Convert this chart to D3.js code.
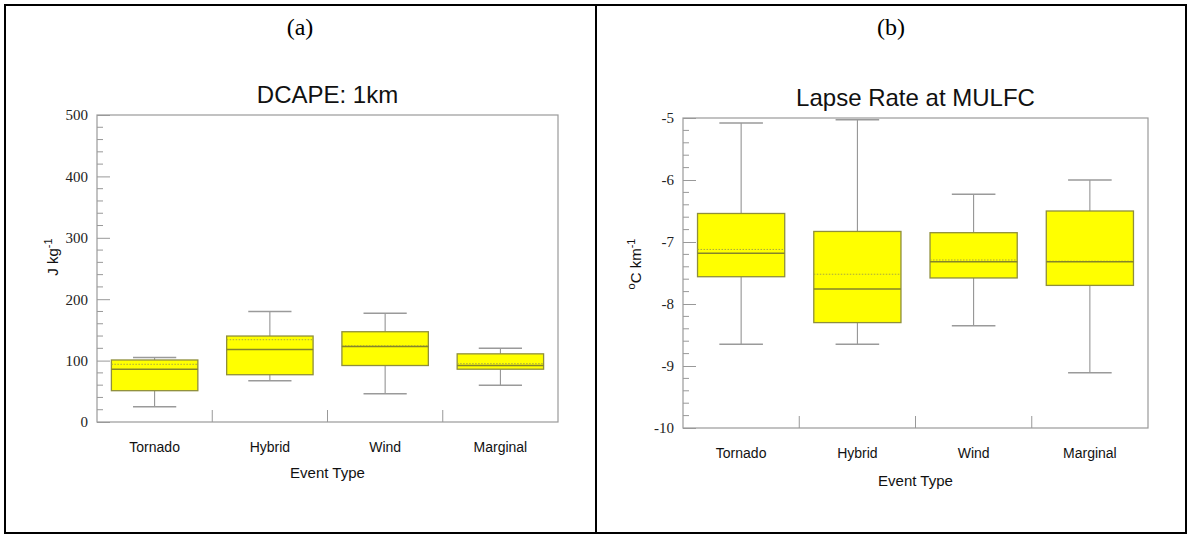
<!DOCTYPE html>
<html>
<head>
<meta charset="utf-8">
<script src="https://cdn.jsdelivr.net/npm/d3@7"></script>
<style>
  body { margin: 0; background: #fff; }
  svg { display: block; }
</style>
</head>
<body>
<div id="chart"></div>
<script>
// event types shared by both panels
const categories = ['Tornado', 'Hybrid', 'Wind', 'Marginal']

// (a) DCAPE: 1km, J kg-1
const dcapeWhiskerLow = [25, 67, 46, 60]
const dcapeQ1 = [51, 77, 92, 86]
const dcapeMedian = [86, 118, 123, 92]
const dcapeMean = [94, 134, 124, 95]
const dcapeQ3 = [101, 140, 147, 111]
const dcapeWhiskerHigh = [105, 180, 177, 120]
const dcapeTicks = [0, 100, 200, 300, 400, 500]

// (b) Lapse rate at MULFC, C km-1
const lapseWhiskerLow = [-8.65, -8.65, -8.35, -9.11]
const lapseQ1 = [-7.56, -8.30, -7.58, -7.70]
const lapseMedian = [-7.18, -7.76, -7.32, -7.32]
const lapseMean = [-7.12, -7.52, -7.29, -7.31]
const lapseQ3 = [-6.54, -6.83, -6.85, -6.50]
const lapseWhiskerHigh = [-5.08, -5.03, -6.23, -6.00]
const lapseTicks = [-10, -9, -8, -7, -6, -5]

const W = 1188
const H = 534

const svg = d3
  .select('#chart')
  .append('svg')
  .attr('width', W)
  .attr('height', H)

//outer frame + divider
svg
  .append('rect')
  .attr('x', 5)
  .attr('y', 5)
  .attr('width', 1181)
  .attr('height', 528)
  .attr('fill', 'none')
  .attr('stroke', '#000')
  .attr('stroke-width', 2)
svg
  .append('line')
  .attr('x1', 596)
  .attr('x2', 596)
  .attr('y1', 5)
  .attr('y2', 533)
  .attr('stroke', '#000')
  .attr('stroke-width', 2)

function drawPanel(p) {
  const g = svg.append('g')

  const x = d3
    .scaleBand()
    .domain(categories)
    .range([p.left, p.right])
  const y = d3
    .scaleLinear()
    .domain(p.domain)
    .range([p.bottom, p.top])

  //panel letter
  svg
    .append('text')
    .attr('x', p.letterX)
    .attr('y', 35)
    .attr('text-anchor', 'middle')
    .style('font-family', '"Liberation Serif", "Times New Roman", serif')
    .style('font-size', '24px')
    .text(p.letter)

  //title
  g.append('text')
    .attr('x', (p.left + p.right) / 2)
    .attr('y', p.titleY)
    .attr('text-anchor', 'middle')
    .style('font-family', '"Liberation Sans", Arial, sans-serif')
    .style('font-size', '24px')
    .attr('fill', '#111')
    .text(p.title)

  //minor ticks
  g.append('g')
    .selectAll('line')
    .data(y.ticks(20).filter(v => !p.ticks.includes(v)))
    .enter()
    .append('line')
    .attr('x1', p.left)
    .attr('x2', p.left + 6)
    .attr('y1', d => y(d))
    .attr('y2', d => y(d))
    .attr('stroke', '#999')

  //major ticks + labels
  const yAxis = g
    .append('g')
    .attr('transform', `translate(${p.left},0)`)
    .call(
      d3
        .axisLeft(y)
        .tickValues(p.ticks)
        .tickFormat(d => String(d))
        .tickSize(-13)
        .tickSizeOuter(0)
        .tickPadding(9)
    )
  yAxis.select('.domain').remove()
  yAxis.selectAll('.tick line').attr('stroke', '#999')
  yAxis
    .selectAll('.tick text')
    .style('font-family', '"Liberation Serif", "Times New Roman", serif')
    .style('font-size', '15px')
    .attr('fill', '#222')

  //plot frame
  g.append('rect')
    .attr('x', p.left)
    .attr('y', p.top)
    .attr('width', p.right - p.left)
    .attr('height', p.bottom - p.top)
    .attr('fill', 'none')
    .attr('stroke', '#9a9a9a')
    .attr('stroke-width', 1.2)

  //category separators
  g.append('g')
    .selectAll('line')
    .data(categories.slice(1))
    .enter()
    .append('line')
    .attr('x1', d => x(d))
    .attr('x2', d => x(d))
    .attr('y1', p.bottom)
    .attr('y2', p.bottom - 12)
    .attr('stroke', '#999')

  //category labels
  const xAxis = g
    .append('g')
    .attr('transform', `translate(0,${p.bottom})`)
    .call(d3.axisBottom(x).tickSize(0).tickPadding(p.catPad))
  xAxis.select('.domain').remove()
  xAxis
    .selectAll('.tick text')
    .style('font-family', '"Liberation Sans", Arial, sans-serif')
    .style('font-size', '14px')
    .attr('fill', '#111')

  //x title
  g.append('text')
    .attr('x', (p.left + p.right) / 2)
    .attr('y', p.bottom + p.xTitleOff)
    .attr('text-anchor', 'middle')
    .style('font-family', '"Liberation Sans", Arial, sans-serif')
    .style('font-size', '15px')
    .attr('fill', '#111')
    .text('Event Type')

  //y title with superscripts
  const yt = g
    .append('text')
    .attr('transform', `translate(${p.yTitleX},${p.yTitleY}) rotate(-90)`)
    .attr('text-anchor', 'middle')
    .style('font-family', '"Liberation Sans", Arial, sans-serif')
    .style('font-size', '15px')
    .attr('fill', '#111')
  p.yTitle.forEach(part => {
    yt.append('tspan')
      .attr('baseline-shift', part.sup ? 'super' : null)
      .style('font-size', part.sup ? '11px' : null)
      .text(part.t)
  })

  //boxes
  const bw = x.bandwidth() * 0.75
  const cw = bw / 2
  const boxes = g
    .append('g')
    .selectAll('g')
    .data(categories.map((c, i) => ({
      c,
      lo: p.wLow[i],
      q1: p.q1[i],
      med: p.med[i],
      mean: p.mean[i],
      q3: p.q3[i],
      hi: p.wHigh[i]
    })))
    .enter()
    .append('g')
    .attr('transform', d => `translate(${x(d.c) + x.bandwidth() / 2},0)`)

  boxes
    .append('line')
    .attr('y1', d => y(d.hi))
    .attr('y2', d => y(d.q3))
    .attr('stroke', '#8a8a8a')
  boxes
    .append('line')
    .attr('y1', d => y(d.q1))
    .attr('y2', d => y(d.lo))
    .attr('stroke', '#8a8a8a')
  boxes
    .append('line')
    .attr('x1', -cw / 2)
    .attr('x2', cw / 2)
    .attr('y1', d => y(d.hi))
    .attr('y2', d => y(d.hi))
    .attr('stroke', '#9a9a9a')
    .attr('stroke-width', 1.5)
  boxes
    .append('line')
    .attr('x1', -cw / 2)
    .attr('x2', cw / 2)
    .attr('y1', d => y(d.lo))
    .attr('y2', d => y(d.lo))
    .attr('stroke', '#9a9a9a')
    .attr('stroke-width', 1.5)

  boxes
    .append('rect')
    .attr('x', -bw / 2)
    .attr('width', bw)
    .attr('y', d => y(d.q3))
    .attr('height', d => y(d.q1) - y(d.q3))
    .attr('fill', '#ffff00')
    .attr('stroke', '#8f8f3c')
    .attr('stroke-width', 1.3)

  boxes
    .append('line')
    .attr('x1', -bw / 2)
    .attr('x2', bw / 2)
    .attr('y1', d => y(d.mean))
    .attr('y2', d => y(d.mean))
    .attr('stroke', '#a8a840')
    .attr('stroke-dasharray', '1.5,1.5')
  boxes
    .append('line')
    .attr('x1', -bw / 2)
    .attr('x2', bw / 2)
    .attr('y1', d => y(d.med))
    .attr('y2', d => y(d.med))
    .attr('stroke', '#85852a')
    .attr('stroke-width', 1.5)
}

drawPanel({
  letter: '(a)',
  letterX: 300,
  title: 'DCAPE: 1km',
  titleY: 103,
  left: 97,
  right: 558,
  top: 115,
  bottom: 422,
  domain: [0, 500],
  ticks: dcapeTicks,
  catPad: 20,
  xTitleOff: 56,
  yTitleX: 58,
  yTitleY: 257,
  yTitle: [{t: 'J kg'}, {t: '-1', sup: true}],
  wLow: dcapeWhiskerLow,
  q1: dcapeQ1,
  med: dcapeMedian,
  mean: dcapeMean,
  q3: dcapeQ3,
  wHigh: dcapeWhiskerHigh
})

drawPanel({
  letter: '(b)',
  letterX: 891,
  title: 'Lapse Rate at MULFC',
  titleY: 106,
  left: 683,
  right: 1148,
  top: 118,
  bottom: 428,
  domain: [-10, -5],
  ticks: lapseTicks,
  catPad: 20,
  xTitleOff: 58,
  yTitleX: 641,
  yTitleY: 264,
  yTitle: [{t: 'o', sup: true}, {t: 'C km'}, {t: '-1', sup: true}],
  wLow: lapseWhiskerLow,
  q1: lapseQ1,
  med: lapseMedian,
  mean: lapseMean,
  q3: lapseQ3,
  wHigh: lapseWhiskerHigh
})
</script>
</body>
</html>
